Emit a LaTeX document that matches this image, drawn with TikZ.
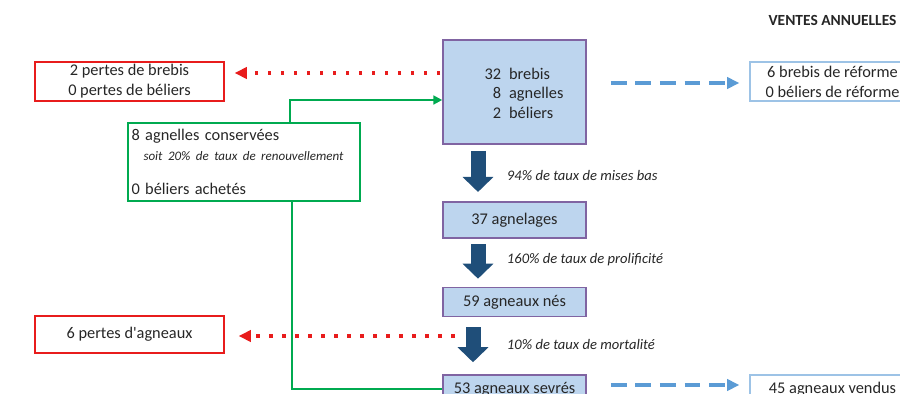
\documentclass[tikz,border=0pt]{standalone}
\usepackage{fontspec}
\setmainfont{Carlito}
\usetikzlibrary{positioning,calc,arrows.meta}
\definecolor{flockfill}{RGB}{189,213,238}
\definecolor{flockline}{RGB}{128,100,162}
\definecolor{flockarrow}{RGB}{31,78,121}
\definecolor{lossred}{RGB}{232,28,28}
\definecolor{keepgreen}{RGB}{0,170,80}
\definecolor{saleblue}{RGB}{91,155,213}
\definecolor{saleline}{RGB}{157,195,230}
\definecolor{txt}{RGB}{38,38,38}
\tikzset{font=\fontsize{9.3}{11.3}\selectfont,
	flock/.style={draw=flockline, fill=flockfill, line width=0.9pt, minimum width=2.86cm},
	loss/.style={draw=lossred, line width=0.8pt, minimum width=3.78cm, minimum height=0.78cm},
	sale/.style={draw=saleline, line width=0.8pt, minimum width=3.3cm, minimum height=0.78cm},
	rate/.style={font=\fontsize{8.3}{10}\selectfont\itshape, text=txt, anchor=west, inner sep=0pt, outer sep=0pt},
	bigarrow/.style={flockarrow, line width=0.3cm, -{Triangle[length=0.3cm, width=0.6cm]}},
	lossarrow/.style={lossred, line width=2pt, dash pattern=on 2pt off 5.4pt, -{Triangle[length=7pt, width=6.5pt]}},
	salearrow/.style={saleblue, line width=2pt, dash pattern=on 9pt off 5pt, -{Triangle[length=7pt, width=6.5pt]}}
}

\begin{document}
\begin{tikzpicture}[x=0.02cm, y=-0.02cm, text=txt]
	\useasboundingbox (0,0) rectangle (900,393);
	\clip (0,0) rectangle (900,393);
	\begin{scope}
		\tikzstyle{every node}=[align=center, inner sep=1pt]
		% troupeau
		\node[flock, minimum height=2.08cm] (ewes) at (514.5,92) {\hspace{0.38cm}\raisebox{-0.06cm}[\height][\depth]{\begin{tabular}{@{}r@{\hspace{0.16cm}}l@{}}32 & brebis\\ 8 & agnelles\\ 2 & béliers\end{tabular}}};
		\node[flock, minimum height=0.73cm] (lambing) at (514.5,220) {37 agnelages};
		\node[flock, minimum height=0.58cm] (born) at (514.5,302) {59 agneaux nés};
		\node[flock, minimum height=0.56cm] (weaned) at (514.5,389) {53 agneaux sevrés};

		% pertes
		\node[loss] (ewelost) at (129.5,81.5) {2 pertes de brebis\\0 pertes de béliers};
		\node[loss, minimum height=0.74cm] (lamblost) at (129.5,334.5) {6 pertes d\textquotesingle agneaux};

		% ventes
		\node[font=\fontsize{8.8}{10}\selectfont\bfseries] (sales) at (832.5,20) {VENTES ANNUELLES};
		\node[sale] (eweout) at (832.5,81.5) {6 brebis de réforme\\0 béliers de réforme};
		\node[sale, minimum height=0.56cm] (lambout) at (832.5,389) {45 agneaux vendus};

		% renouvellement
		\node[draw=keepgreen, line width=0.8pt, minimum height=1.56cm, text width=4.5cm, inner sep=2pt, align=left] (kept) at (244,162) {8 agnelles conservées\\\mbox{\kern0.24cm\fontsize{7.4}{10}\selectfont\itshape soit 20\% de taux de renouvellement}\\[8.5pt]0 béliers achetés};

		\coordinate (lambloss) at (455,336);

		\draw [bigarrow] ($(ewes.south)+(-36.5,6)$) -- ($(lambing.north)+(-36.5,-9)$) node[rate, pos=0.6, xshift=0.58cm] (r1) {94\% de taux de mises bas};
		\draw [bigarrow] ($(lambing.south)+(-36.5,5)$) -- ($(born.north)+(-36.5,-8)$) node[rate, pos=0.46, xshift=0.58cm] (r2) {160\% de taux de prolificité};
		\draw [bigarrow] ($(born.south)+(-41.5,10)$) -- ($(weaned.north)+(-41.5,-12)$) node[rate, pos=0.5, xshift=0.68cm] (r3) {10\% de taux de mortalité};

		\draw [lossarrow, shorten >=0.2cm] ($(ewes.west)+(-2,-19)$) -- ($(ewelost.east)+(0,-8.5)$);
		\draw [lossarrow, shorten >=0.28cm] (lambloss) -- (lambloss -| lamblost.east);

		\draw [salearrow, shorten <=0.48cm, shorten >=0.2cm] ($(ewes.east |- eweout.west)+(0,1.5)$) -- ($(eweout.west)+(0,1.5)$);
		\draw [salearrow, shorten <=0.48cm, shorten >=0.2cm] ($(weaned.east)+(0,-4)$) -- ($(lambout.west)+(0,-4)$);

		\draw [keepgreen, line width=1.2pt, -{Triangle[length=5pt, width=5pt]}] ($(kept.north)+(46,0)$) |- ($(ewes.west)+(0,8)$);
		\draw [keepgreen, line width=1.2pt] ($(kept.south)+(48,0)$) |- (weaned.west);
	\end{scope}
\end{tikzpicture}
\end{document}
